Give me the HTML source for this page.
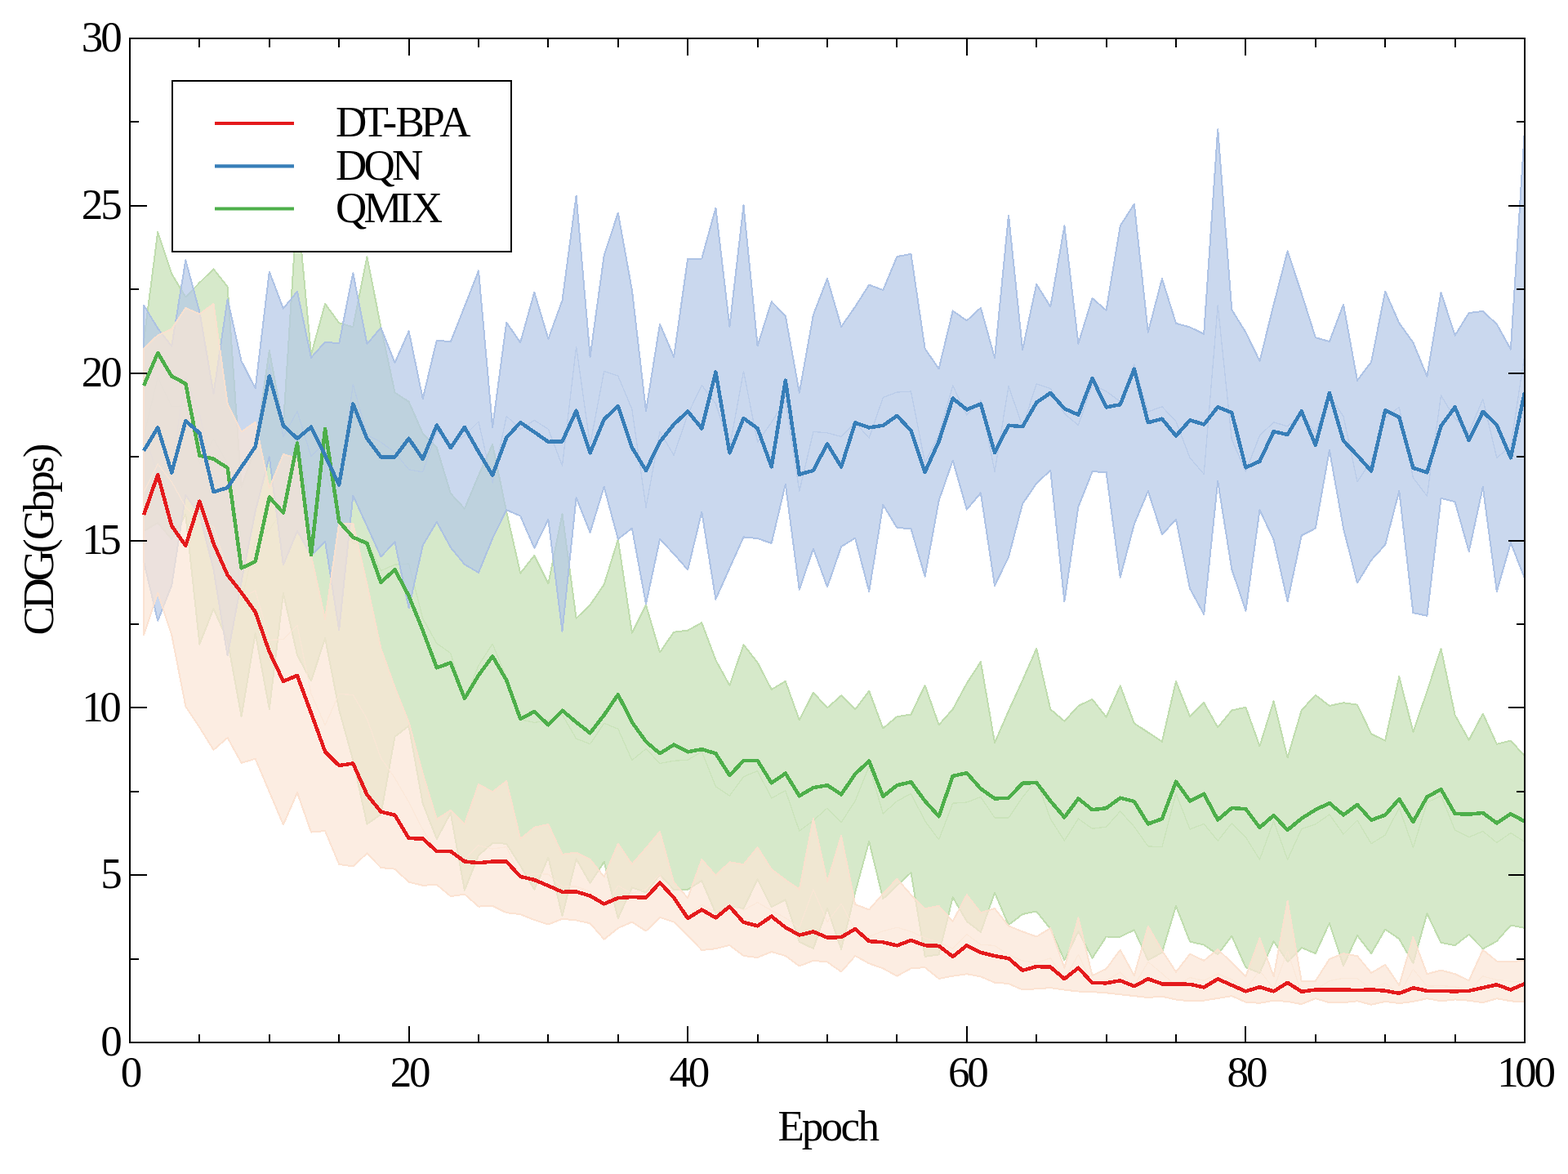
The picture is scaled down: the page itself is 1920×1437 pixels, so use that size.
<!DOCTYPE html>
<html lang="en"><head><meta charset="utf-8"><title>CDG vs Epoch</title>
<style>html,body{margin:0;padding:0;background:#fff}svg{display:block}text{font-family:"Liberation Serif",serif;font-size:53px;fill:#000}</style></head><body>
<svg width="1920" height="1437" viewBox="0 0 1920 1437">
<rect width="1920" height="1437" fill="#fff"/>
<defs><clipPath id="c"><rect x="159.0" y="47.0" width="1708.0" height="1229.0"/></clipPath></defs>
<g clip-path="url(#c)" stroke-linejoin="round" shape-rendering="crispEdges">
<polygon points="176.1,417.0 193.2,284.2 210.2,335.1 227.3,363.5 244.4,346.0 261.5,329.3 278.6,351.0 295.6,596.0 312.7,548.0 329.8,429.2 346.9,521.0 364.0,252.0 381.0,434.0 398.1,371.9 415.2,395.3 432.3,400.3 449.4,314.3 466.4,400.3 483.5,480.5 500.6,491.7 517.7,530.6 534.8,548.1 551.8,604.0 568.9,622.6 586.0,582.0 603.1,543.9 620.2,626.6 637.2,701.7 654.3,679.9 671.4,714.2 688.5,629.1 705.6,756.8 722.6,740.5 739.7,715.5 756.8,660.4 773.9,774.7 791.0,740.5 808.0,798.5 825.1,773.7 842.2,771.6 859.3,762.2 876.4,807.9 893.4,839.0 910.5,789.1 927.6,811.0 944.7,843.9 961.8,833.9 978.8,881.5 995.9,847.7 1013.0,866.5 1030.1,851.4 1047.2,868.4 1064.2,845.8 1081.3,891.5 1098.4,877.2 1115.5,874.5 1132.6,838.9 1149.6,887.3 1166.7,868.2 1183.8,836.4 1200.9,810.1 1218.0,909.1 1235.0,870.2 1252.1,832.7 1269.2,793.8 1286.3,868.2 1303.4,882.8 1320.4,864.0 1337.5,855.9 1354.6,877.7 1371.7,839.4 1388.8,885.3 1405.8,896.5 1422.9,907.8 1440.0,833.9 1457.1,877.2 1474.2,860.2 1491.2,890.3 1508.3,869.5 1525.4,865.7 1542.5,913.3 1559.6,858.2 1576.6,927.3 1593.7,869.5 1610.8,850.7 1627.9,864.0 1645.0,860.2 1662.0,862.7 1679.1,898.3 1696.2,906.6 1713.3,828.1 1730.4,895.8 1747.4,846.4 1764.5,793.8 1781.6,875.2 1798.7,905.8 1815.8,873.5 1832.8,910.8 1849.9,906.6 1867.0,925.3 1867.0,1135.8 1849.9,1132.6 1832.8,1152.0 1815.8,1161.4 1798.7,1143.9 1781.6,1157.1 1764.5,1153.9 1747.4,1118.2 1730.4,1179.0 1713.3,1149.2 1696.2,1137.6 1679.1,1167.1 1662.0,1145.2 1645.0,1182.1 1627.9,1129.9 1610.8,1167.1 1593.7,1159.9 1576.6,1177.1 1559.6,1152.0 1542.5,1190.9 1525.4,1184.0 1508.3,1145.8 1491.2,1168.4 1474.2,1156.5 1457.1,1152.7 1440.0,1108.9 1422.9,1165.9 1405.8,1175.3 1388.8,1138.3 1371.7,1146.7 1354.6,1146.5 1337.5,1172.8 1320.4,1140.2 1303.4,1175.3 1286.3,1137.1 1269.2,1115.5 1252.1,1119.0 1235.0,1132.1 1218.0,1092.7 1200.9,1140.9 1183.8,1127.7 1166.7,1098.3 1149.6,1168.4 1132.6,1170.9 1115.5,1068.2 1098.4,1083.9 1081.3,1100.2 1064.2,1029.9 1047.2,1092.2 1030.1,1162.0 1013.0,1111.7 995.9,1161.0 978.8,1152.8 961.8,1101.4 944.7,1110.2 927.6,1076.1 910.5,1112.2 893.4,1108.9 876.4,1117.7 859.3,1077.9 842.2,1088.9 825.1,1088.9 808.0,1070.6 791.0,1092.4 773.9,1086.4 756.8,1124.0 739.7,1055.0 722.6,1080.9 705.6,1051.4 688.5,1121.0 671.4,1049.6 654.3,1088.9 637.2,1059.7 620.2,1032.7 603.1,1032.0 586.0,1047.0 568.9,1089.6 551.8,995.2 534.8,1027.0 517.7,983.5 500.6,888.4 483.5,901.7 466.4,996.9 449.4,1008.6 432.3,930.5 415.2,868.7 398.1,781.0 381.0,833.6 364.0,801.9 346.9,725.9 329.8,867.8 312.7,775.1 295.6,877.0 278.6,783.5 261.5,745.1 244.4,788.5 227.3,630.0 210.2,660.0 193.2,640.0 176.1,650.0" fill="#c5e0b4" fill-opacity="0.7" stroke="#bcdbaa" stroke-opacity="0.91" stroke-width="2"/>
<polyline points="176.1,533.5 193.2,462.1 210.2,497.6 227.3,496.8 244.4,567.2 261.5,537.2 278.6,567.2 295.6,736.5 312.7,661.5 329.8,648.5 346.9,623.5 364.0,527.0 381.0,633.8 398.1,576.5 415.2,632.0 432.3,665.4 449.4,661.5 466.4,698.6 483.5,691.1 500.6,690.0 517.7,757.0 534.8,787.5 551.8,799.6 568.9,856.1 586.0,814.5 603.1,788.0 620.2,829.7 637.2,880.7 654.3,884.4 671.4,881.9 688.5,875.0 705.6,904.1 722.6,910.7 739.7,885.2 756.8,892.2 773.9,930.6 791.0,916.5 808.0,934.5 825.1,931.3 842.2,930.2 859.3,920.1 876.4,962.8 893.4,974.0 910.5,950.7 927.6,943.5 944.7,977.0 961.8,967.7 978.8,1017.1 995.9,1004.4 1013.0,989.1 1030.1,1006.7 1047.2,980.3 1064.2,937.9 1081.3,995.9 1098.4,980.6 1115.5,971.4 1132.6,1004.9 1149.6,1027.8 1166.7,983.2 1183.8,982.0 1200.9,975.5 1218.0,1000.9 1235.0,1001.1 1252.1,975.9 1269.2,954.6 1286.3,1002.6 1303.4,1029.0 1320.4,1002.1 1337.5,1014.3 1354.6,1012.1 1371.7,993.0 1388.8,1011.8 1405.8,1035.9 1422.9,1036.8 1440.0,971.4 1457.1,1015.0 1474.2,1008.4 1491.2,1029.3 1508.3,1007.6 1525.4,1024.8 1542.5,1052.1 1559.6,1005.1 1576.6,1052.2 1593.7,1014.7 1610.8,1008.9 1627.9,997.0 1645.0,1021.1 1662.0,1004.0 1679.1,1032.7 1696.2,1022.1 1713.3,988.7 1730.4,1037.4 1747.4,982.3 1764.5,973.9 1781.6,1016.1 1798.7,1024.8 1815.8,1017.5 1832.8,1031.4 1849.9,1019.6 1867.0,1030.5" fill="none" stroke="#c5e0b4" stroke-opacity="0.7" stroke-width="1.3"/>
<polygon points="176.1,373.5 193.2,401.9 210.2,423.7 227.3,318.4 244.4,381.9 261.5,482.1 278.6,366.0 295.6,442.0 312.7,475.4 329.8,332.6 346.9,377.7 364.0,356.8 381.0,437.8 398.1,418.6 415.2,420.3 432.3,334.3 449.4,421.1 466.4,401.1 483.5,444.1 500.6,405.3 517.7,488.0 534.8,416.6 551.8,418.3 568.9,375.2 586.0,331.4 603.1,523.1 620.2,394.7 637.2,419.2 654.3,357.8 671.4,414.9 688.5,367.8 705.6,239.6 722.6,436.7 739.7,312.7 756.8,260.6 773.9,355.3 791.0,503.1 808.0,396.7 825.1,436.7 842.2,316.5 859.3,316.5 876.4,254.6 893.4,399.9 910.5,251.4 927.6,423.5 944.7,369.1 961.8,386.6 978.8,480.6 995.9,385.4 1013.0,341.0 1030.1,399.9 1047.2,375.4 1064.2,348.7 1081.3,355.1 1098.4,314.1 1115.5,310.9 1132.6,426.8 1149.6,451.4 1166.7,380.5 1183.8,392.5 1200.9,376.7 1218.0,438.1 1235.0,263.5 1252.1,428.1 1269.2,347.9 1286.3,375.5 1303.4,276.5 1320.4,420.6 1337.5,365.0 1354.6,380.0 1371.7,276.5 1388.8,249.7 1405.8,406.8 1422.9,341.2 1440.0,395.8 1457.1,400.5 1474.2,408.8 1491.2,158.3 1508.3,379.2 1525.4,406.8 1542.5,441.9 1559.6,373.0 1576.6,307.3 1593.7,359.2 1610.8,413.1 1627.9,418.1 1645.0,372.5 1662.0,465.7 1679.1,443.1 1696.2,356.7 1713.3,395.5 1730.4,419.3 1747.4,460.7 1764.5,358.0 1781.6,410.6 1798.7,383.0 1815.8,381.0 1832.8,396.8 1849.9,427.6 1867.0,158.8 1867.0,708.1 1849.9,664.3 1832.8,723.9 1815.8,596.1 1798.7,675.0 1781.6,614.2 1764.5,609.9 1747.4,753.7 1730.4,750.2 1713.3,600.9 1696.2,666.8 1679.1,685.6 1662.0,713.6 1645.0,646.7 1627.9,551.0 1610.8,646.7 1593.7,655.5 1576.6,736.2 1559.6,660.5 1542.5,624.2 1525.4,747.7 1508.3,696.8 1491.2,589.1 1474.2,751.9 1457.1,720.6 1440.0,635.9 1422.9,654.2 1405.8,601.1 1388.8,641.7 1371.7,706.8 1354.6,577.8 1337.5,577.3 1320.4,620.4 1303.4,736.2 1286.3,575.8 1269.2,591.6 1252.1,616.7 1235.0,681.8 1218.0,716.9 1200.9,603.4 1183.8,623.7 1166.7,563.5 1149.6,612.9 1132.6,705.6 1115.5,647.2 1098.4,646.0 1081.3,617.9 1064.2,723.9 1047.2,658.6 1030.1,669.1 1013.0,718.5 995.9,671.6 978.8,721.8 961.8,592.7 944.7,664.9 927.6,659.1 910.5,657.4 893.4,695.4 876.4,733.5 859.3,626.6 842.2,697.5 825.1,677.9 808.0,659.9 791.0,739.3 773.9,646.6 756.8,659.9 739.7,596.0 722.6,651.6 705.6,609.0 688.5,772.6 671.4,635.8 654.3,670.9 637.2,631.6 620.2,624.1 603.1,659.1 586.0,700.9 568.9,690.9 551.8,670.1 534.8,638.8 517.7,667.6 500.6,744.3 483.5,663.5 466.4,681.4 449.4,644.0 432.3,606.7 415.2,771.0 398.1,662.6 381.0,680.0 364.0,650.0 346.9,691.5 329.8,559.3 312.7,625.5 295.6,712.0 278.6,802.5 261.5,697.0 244.4,630.0 227.3,605.9 210.2,716.8 193.2,759.8 176.1,687.6" fill="#b4c7e7" fill-opacity="0.7" stroke="#a9bfe3" stroke-opacity="0.91" stroke-width="2"/>
<polyline points="176.1,530.5 193.2,580.8 210.2,570.2 227.3,462.1 244.4,505.9 261.5,589.5 278.6,584.2 295.6,577.0 312.7,550.5 329.8,445.9 346.9,534.6 364.0,503.4 381.0,558.9 398.1,540.6 415.2,595.6 432.3,470.5 449.4,532.5 466.4,541.2 483.5,553.8 500.6,574.8 517.7,577.8 534.8,527.7 551.8,544.2 568.9,533.0 586.0,516.1 603.1,591.1 620.2,509.4 637.2,525.4 654.3,514.4 671.4,525.3 688.5,570.2 705.6,424.3 722.6,544.1 739.7,454.4 756.8,460.2 773.9,501.0 791.0,621.2 808.0,528.3 825.1,557.3 842.2,507.0 859.3,471.6 876.4,494.1 893.4,547.6 910.5,454.4 927.6,541.3 944.7,517.0 961.8,489.7 978.8,601.2 995.9,528.5 1013.0,529.8 1030.1,534.5 1047.2,517.0 1064.2,536.3 1081.3,486.5 1098.4,480.1 1115.5,479.1 1132.6,566.2 1149.6,532.1 1166.7,472.0 1183.8,508.1 1200.9,490.0 1218.0,577.5 1235.0,472.6 1252.1,522.4 1269.2,469.8 1286.3,475.6 1303.4,506.4 1320.4,520.5 1337.5,471.1 1354.6,478.9 1371.7,491.6 1388.8,445.7 1405.8,504.0 1422.9,497.7 1440.0,515.9 1457.1,560.5 1474.2,580.4 1491.2,373.7 1508.3,538.0 1525.4,577.2 1542.5,533.0 1559.6,516.8 1576.6,521.8 1593.7,507.4 1610.8,529.9 1627.9,484.6 1645.0,509.6 1662.0,589.6 1679.1,564.4 1696.2,511.8 1713.3,498.2 1730.4,584.8 1747.4,607.2 1764.5,483.9 1781.6,512.4 1798.7,529.0 1815.8,488.6 1832.8,560.4 1849.9,546.0 1867.0,433.5" fill="none" stroke="#b4c7e7" stroke-opacity="0.7" stroke-width="1.3"/>
<polygon points="176.1,427.0 193.2,410.3 210.2,402.8 227.3,376.9 244.4,384.4 261.5,371.9 278.6,494.0 295.6,528.4 312.7,516.7 329.8,597.5 346.9,556.0 364.0,561.0 381.0,680.0 398.1,758.0 415.2,640.9 432.3,640.5 449.4,715.0 466.4,793.6 483.5,841.2 500.6,884.0 517.7,946.8 534.8,1002.8 551.8,991.6 568.9,1008.6 586.0,960.2 603.1,969.1 620.2,956.2 637.2,1026.9 654.3,1012.7 671.4,1008.9 688.5,1045.8 705.6,1043.6 722.6,1051.9 739.7,1073.1 756.8,1032.7 773.9,1057.8 791.0,1038.1 808.0,1017.9 825.1,1080.2 842.2,1099.0 859.3,1051.9 876.4,1071.7 893.4,1055.2 910.5,1058.2 927.6,1037.2 944.7,1064.0 961.8,1076.9 978.8,1088.6 995.9,1002.0 1013.0,1079.4 1030.1,1023.1 1047.2,1107.0 1064.2,1113.5 1081.3,1093.9 1098.4,1075.7 1115.5,1095.2 1132.6,1112.1 1149.6,1108.9 1166.7,1127.7 1183.8,1095.2 1200.9,1117.1 1218.0,1112.1 1235.0,1133.4 1252.1,1140.3 1269.2,1146.5 1286.3,1136.1 1303.4,1184.7 1320.4,1123.3 1337.5,1194.1 1354.6,1185.9 1371.7,1162.7 1388.8,1194.1 1405.8,1133.7 1422.9,1163.4 1440.0,1189.7 1457.1,1167.7 1474.2,1175.9 1491.2,1162.0 1508.3,1178.4 1525.4,1195.3 1542.5,1148.3 1559.6,1195.3 1576.6,1102.8 1593.7,1200.9 1610.8,1200.9 1627.9,1174.0 1645.0,1167.1 1662.0,1170.2 1679.1,1190.9 1696.2,1180.9 1713.3,1206.2 1730.4,1146.7 1747.4,1192.1 1764.5,1187.7 1781.6,1192.1 1798.7,1200.3 1815.8,1162.7 1832.8,1176.5 1849.9,1177.1 1867.0,1175.8 1867.0,1226.6 1849.9,1225.3 1832.8,1222.2 1815.8,1227.2 1798.7,1224.7 1781.6,1223.4 1764.5,1225.3 1747.4,1222.2 1730.4,1225.9 1713.3,1228.1 1696.2,1225.9 1679.1,1229.7 1662.0,1225.3 1645.0,1227.2 1627.9,1227.2 1610.8,1222.2 1593.7,1229.1 1576.6,1225.9 1559.6,1224.7 1542.5,1227.8 1525.4,1226.6 1508.3,1219.1 1491.2,1221.9 1474.2,1224.7 1457.1,1225.4 1440.0,1223.5 1422.9,1219.7 1405.8,1221.0 1388.8,1219.1 1371.7,1217.2 1354.6,1215.3 1337.5,1214.1 1320.4,1213.5 1303.4,1211.6 1286.3,1209.1 1269.2,1210.3 1252.1,1211.5 1235.0,1204.0 1218.0,1202.7 1200.9,1195.4 1183.8,1192.2 1166.7,1194.7 1149.6,1197.9 1132.6,1184.1 1115.5,1185.3 1098.4,1194.7 1081.3,1185.4 1064.2,1179.3 1047.2,1170.0 1030.1,1189.5 1013.0,1177.5 995.9,1175.8 978.8,1182.5 961.8,1170.0 944.7,1165.0 927.6,1172.0 910.5,1170.0 893.4,1157.0 876.4,1161.2 859.3,1163.0 842.2,1144.8 825.1,1128.5 808.0,1122.8 791.0,1139.6 773.9,1128.5 756.8,1136.0 739.7,1149.7 722.6,1130.2 705.6,1126.5 688.5,1124.7 671.4,1131.5 654.3,1126.0 637.2,1119.1 620.2,1117.2 603.1,1108.8 586.0,1109.6 568.9,1094.6 551.8,1097.1 534.8,1082.9 517.7,1083.8 500.6,1079.6 483.5,1063.7 466.4,1062.0 449.4,1044.5 432.3,1060.4 415.2,1057.9 398.1,1017.0 381.0,1018.6 364.0,970.2 346.9,1009.4 329.8,969.1 312.7,928.8 295.6,933.8 278.6,902.9 261.5,917.9 244.4,890.4 227.3,864.5 210.2,776.8 193.2,725.7 176.1,776.9" fill="#fbe5d6" fill-opacity="0.7" stroke="#fbe0cf" stroke-opacity="0.91" stroke-width="2"/>
<polyline points="176.1,602.0 193.2,568.0 210.2,589.8 227.3,620.7 244.4,637.4 261.5,644.9 278.6,698.5 295.6,731.1 312.7,722.8 329.8,783.3 346.9,782.7 364.0,765.6 381.0,849.3 398.1,887.5 415.2,849.4 432.3,850.5 449.4,879.8 466.4,927.8 483.5,952.5 500.6,981.8 517.7,1015.3 534.8,1042.8 551.8,1044.3 568.9,1051.6 586.0,1034.9 603.1,1039.0 620.2,1036.7 637.2,1073.0 654.3,1069.3 671.4,1070.2 688.5,1085.2 705.6,1085.0 722.6,1091.1 739.7,1111.4 756.8,1084.3 773.9,1093.2 791.0,1088.8 808.0,1070.3 825.1,1104.3 842.2,1121.9 859.3,1107.5 876.4,1116.5 893.4,1106.1 910.5,1114.1 927.6,1104.6 944.7,1114.5 961.8,1123.5 978.8,1135.5 995.9,1088.9 1013.0,1128.5 1030.1,1106.3 1047.2,1138.5 1064.2,1146.4 1081.3,1139.7 1098.4,1135.2 1115.5,1140.2 1132.6,1148.1 1149.6,1153.4 1166.7,1161.2 1183.8,1143.7 1200.9,1156.2 1218.0,1157.4 1235.0,1168.7 1252.1,1175.9 1269.2,1178.4 1286.3,1172.6 1303.4,1198.2 1320.4,1168.4 1337.5,1204.1 1354.6,1200.6 1371.7,1190.0 1388.8,1206.6 1405.8,1177.3 1422.9,1191.6 1440.0,1206.6 1457.1,1196.6 1474.2,1200.3 1491.2,1192.0 1508.3,1198.8 1525.4,1210.9 1542.5,1188.0 1559.6,1210.0 1576.6,1164.3 1593.7,1215.0 1610.8,1211.6 1627.9,1200.6 1645.0,1197.2 1662.0,1197.8 1679.1,1210.3 1696.2,1203.4 1713.3,1217.2 1730.4,1186.3 1747.4,1207.2 1764.5,1206.5 1781.6,1207.8 1798.7,1212.5 1815.8,1195.0 1832.8,1199.3 1849.9,1201.2 1867.0,1201.2" fill="none" stroke="#fbe5d6" stroke-opacity="0.7" stroke-width="1.3"/>
<polyline points="176.1,472.1 193.2,432.0 210.2,460.4 227.3,469.6 244.4,557.6 261.5,561.8 278.6,572.7 295.6,695.4 312.7,687.1 329.8,608.6 346.9,627.6 364.0,542.6 381.0,678.9 398.1,525.1 415.2,638.4 432.3,657.6 449.4,665.1 466.4,712.7 483.5,697.3 500.6,729.4 517.7,771.8 534.8,817.3 551.8,811.3 568.9,854.9 586.0,826.5 603.1,803.3 620.2,832.6 637.2,880.0 654.3,871.0 671.4,887.3 688.5,869.7 705.6,884.0 722.6,897.3 739.7,875.2 756.8,850.2 773.9,884.0 791.0,907.8 808.0,922.3 825.1,911.6 842.2,920.3 859.3,917.1 876.4,922.3 893.4,949.1 910.5,931.1 927.6,930.9 944.7,958.4 961.8,946.6 978.8,974.2 995.9,964.2 1013.0,961.2 1030.1,972.4 1047.2,947.3 1064.2,931.6 1081.3,974.8 1098.4,961.2 1115.5,957.2 1132.6,980.5 1149.6,999.2 1166.7,949.9 1183.8,946.1 1200.9,965.4 1218.0,977.5 1235.0,976.7 1252.1,958.7 1269.2,957.9 1286.3,980.5 1303.4,1000.5 1320.4,977.5 1337.5,991.2 1354.6,989.2 1371.7,976.7 1388.8,981.0 1405.8,1008.5 1422.9,1002.3 1440.0,956.7 1457.1,980.5 1474.2,971.7 1491.2,1003.5 1508.3,989.0 1525.4,990.2 1542.5,1013.0 1559.6,998.0 1576.6,1016.0 1593.7,1001.8 1610.8,991.2 1627.9,983.0 1645.0,997.5 1662.0,985.0 1679.1,1003.8 1696.2,997.5 1713.3,978.0 1730.4,1006.0 1747.4,975.4 1764.5,966.2 1781.6,996.0 1798.7,996.7 1815.8,995.0 1832.8,1007.5 1849.9,996.2 1867.0,1005.5" fill="none" stroke="#4daf4a" stroke-width="4.5" stroke-linejoin="round" stroke-linecap="butt"/>
<polyline points="176.1,551.8 193.2,523.4 210.2,578.5 227.3,515.1 244.4,530.1 261.5,602.2 278.6,596.9 295.6,571.8 312.7,546.8 329.8,460.5 346.9,520.9 364.0,536.8 381.0,522.6 398.1,557.6 415.2,593.5 432.3,494.4 449.4,536.8 466.4,559.3 483.5,559.4 500.6,536.8 517.7,561.9 534.8,520.5 551.8,548.1 568.9,523.0 586.0,553.1 603.1,581.7 620.2,535.6 637.2,517.2 654.3,528.8 671.4,540.8 688.5,540.3 705.6,502.8 722.6,554.4 739.7,513.2 756.8,497.2 773.9,547.9 791.0,575.9 808.0,540.8 825.1,519.5 842.2,503.5 859.3,524.4 876.4,455.5 893.4,554.4 910.5,511.9 927.6,524.4 944.7,571.4 961.8,465.6 978.8,580.7 995.9,575.9 1013.0,543.2 1030.1,571.4 1047.2,517.4 1064.2,523.4 1081.3,520.8 1098.4,508.9 1115.5,527.0 1132.6,577.8 1149.6,540.3 1166.7,487.6 1183.8,501.4 1200.9,494.4 1218.0,554.0 1235.0,520.7 1252.1,522.2 1269.2,492.7 1286.3,480.9 1303.4,500.2 1320.4,507.7 1337.5,463.1 1354.6,498.4 1371.7,495.2 1388.8,451.8 1405.8,517.2 1422.9,512.7 1440.0,533.6 1457.1,514.2 1474.2,519.6 1491.2,498.2 1508.3,505.2 1525.4,572.3 1542.5,564.6 1559.6,528.2 1576.6,532.0 1593.7,503.4 1610.8,544.8 1627.9,480.9 1645.0,539.7 1662.0,557.3 1679.1,576.6 1696.2,502.2 1713.3,510.7 1730.4,572.8 1747.4,578.3 1764.5,521.5 1781.6,498.4 1798.7,539.0 1815.8,503.9 1832.8,520.2 1849.9,560.3 1867.0,480.1" fill="none" stroke="#377eb8" stroke-width="4.5" stroke-linejoin="round" stroke-linecap="butt"/>
<polyline points="176.1,630.3 193.2,581.0 210.2,643.7 227.3,667.9 244.4,613.6 261.5,665.4 278.6,703.8 295.6,725.3 312.7,749.2 329.8,797.8 346.9,833.8 364.0,826.9 381.0,872.9 398.1,920.0 415.2,937.0 432.3,934.5 449.4,972.7 466.4,993.6 483.5,997.7 500.6,1026.1 517.7,1026.5 534.8,1042.0 551.8,1042.0 568.9,1054.5 586.0,1056.2 603.1,1054.6 620.2,1054.6 637.2,1072.9 654.3,1077.0 671.4,1084.2 688.5,1091.8 705.6,1091.5 722.6,1096.5 739.7,1106.4 756.8,1099.1 773.9,1098.0 791.0,1098.7 808.0,1080.5 825.1,1098.6 842.2,1124.0 859.3,1113.5 876.4,1123.4 893.4,1109.6 910.5,1128.9 927.6,1133.3 944.7,1121.6 961.8,1135.2 978.8,1144.6 995.9,1140.4 1013.0,1147.6 1030.1,1147.1 1047.2,1137.1 1064.2,1152.1 1081.3,1153.3 1098.4,1157.4 1115.5,1150.9 1132.6,1157.2 1149.6,1157.8 1166.7,1170.9 1183.8,1157.2 1200.9,1165.9 1218.0,1170.1 1235.0,1173.1 1252.1,1187.8 1269.2,1183.1 1286.3,1183.7 1303.4,1198.2 1320.4,1184.7 1337.5,1203.1 1354.6,1203.3 1371.7,1200.3 1388.8,1207.2 1405.8,1198.2 1422.9,1204.3 1440.0,1204.6 1457.1,1204.8 1474.2,1208.5 1491.2,1198.3 1508.3,1205.9 1525.4,1213.4 1542.5,1208.2 1559.6,1213.4 1576.6,1202.8 1593.7,1213.8 1610.8,1211.5 1627.9,1211.3 1645.0,1211.3 1662.0,1212.2 1679.1,1211.3 1696.2,1212.8 1713.3,1215.9 1730.4,1209.3 1747.4,1212.8 1764.5,1213.0 1781.6,1213.4 1798.7,1212.8 1815.8,1209.0 1832.8,1205.3 1849.9,1211.5 1867.0,1204.0" fill="none" stroke="#e41a1c" stroke-width="4.5" stroke-linejoin="round" stroke-linecap="butt"/>
</g>
<g stroke="#000" stroke-width="2.0" fill="none" stroke-linecap="butt" shape-rendering="crispEdges">
<rect x="159.00" y="47.00" width="1708.00" height="1229.00"/>
<path d="M159.00 1276.00v-20.5M159.00 47.00v20.5M244.00 1276.00v-10.5M244.00 47.00v10.5M330.00 1276.00v-10.5M330.00 47.00v10.5M415.00 1276.00v-10.5M415.00 47.00v10.5M501.00 1276.00v-20.5M501.00 47.00v20.5M586.00 1276.00v-10.5M586.00 47.00v10.5M671.00 1276.00v-10.5M671.00 47.00v10.5M757.00 1276.00v-10.5M757.00 47.00v10.5M842.00 1276.00v-20.5M842.00 47.00v20.5M928.00 1276.00v-10.5M928.00 47.00v10.5M1013.00 1276.00v-10.5M1013.00 47.00v10.5M1098.00 1276.00v-10.5M1098.00 47.00v10.5M1184.00 1276.00v-20.5M1184.00 47.00v20.5M1269.00 1276.00v-10.5M1269.00 47.00v10.5M1355.00 1276.00v-10.5M1355.00 47.00v10.5M1440.00 1276.00v-10.5M1440.00 47.00v10.5M1525.00 1276.00v-20.5M1525.00 47.00v20.5M1611.00 1276.00v-10.5M1611.00 47.00v10.5M1696.00 1276.00v-10.5M1696.00 47.00v10.5M1782.00 1276.00v-10.5M1782.00 47.00v10.5M1867.00 1276.00v-20.5M1867.00 47.00v20.5M159.00 1276.00h20.5M1867.00 1276.00h-20.5M159.00 1174.00h10.5M1867.00 1174.00h-10.5M159.00 1071.00h20.5M1867.00 1071.00h-20.5M159.00 969.00h10.5M1867.00 969.00h-10.5M159.00 866.00h20.5M1867.00 866.00h-20.5M159.00 764.00h10.5M1867.00 764.00h-10.5M159.00 662.00h20.5M1867.00 662.00h-20.5M159.00 559.00h10.5M1867.00 559.00h-10.5M159.00 457.00h20.5M1867.00 457.00h-20.5M159.00 354.00h10.5M1867.00 354.00h-10.5M159.00 252.00h20.5M1867.00 252.00h-20.5M159.00 149.00h10.5M1867.00 149.00h-10.5M159.00 47.00h20.5M1867.00 47.00h-20.5"/>
</g>
<text x="147.84" y="1330.00">0</text>
<text x="477.78 501.10" y="1330.00">20</text>
<text x="819.38 842.70" y="1330.00">40</text>
<text x="1160.98 1184.30" y="1330.00">60</text>
<text x="1502.58 1525.90" y="1330.00">80</text>
<text x="1833.27 1855.09 1878.41" y="1330.00">100</text>
<text x="123.18" y="1292.20">0</text>
<text x="123.18" y="1087.37">5</text>
<text x="100.36 122.18" y="882.53">10</text>
<text x="100.36 122.18" y="677.70">15</text>
<text x="99.86 123.18" y="472.87">20</text>
<text x="99.86 123.18" y="268.03">25</text>
<text x="99.86 123.18" y="63.20">30</text>
<text x="952.57 981.71 1005.56 1029.41 1050.58" y="1396.00">Epoch</text>
<g transform="translate(65.00 661.00) rotate(-90)"><text x="-116.60 -84.78 -50.33 -15.88 0.00 34.45 58.30 82.15 100.71" y="0.00">CDG(Gbps)</text></g>
<rect x="211.00" y="99.00" width="415.00" height="209.00" fill="#fff" stroke="#000" stroke-width="2" shape-rendering="crispEdges"/>
<line x1="263.0" x2="360.0" y1="151.00" y2="151.00" stroke="#e41a1c" stroke-width="4.1"/>
<text x="411.00 443.45 468.58 484.47 515.29 538.31" y="166.80">DT-BPA</text>
<line x1="263.0" x2="360.0" y1="203.40" y2="203.40" stroke="#377eb8" stroke-width="4.1"/>
<text x="411.00 445.45 479.90" y="219.50">DQN</text>
<line x1="263.0" x2="360.0" y1="255.50" y2="255.50" stroke="#4daf4a" stroke-width="4.1"/>
<text x="411.00 445.45 487.86 503.75" y="272.20">QMIX</text>
</svg></body></html>
